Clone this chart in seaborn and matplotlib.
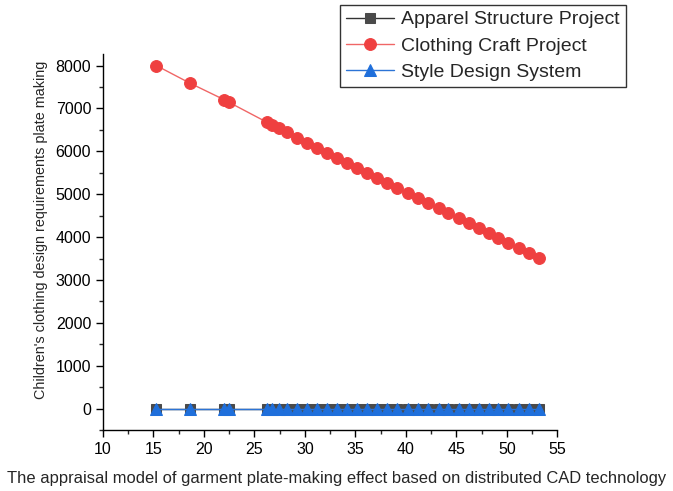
import matplotlib
matplotlib.use("Agg")
import matplotlib.pyplot as plt
from matplotlib.ticker import MultipleLocator
import seaborn as sns
import pandas as pd

# Appraisal model scores along the x axis
x_vals = [15.29, 18.58, 22.0, 22.5, 26.28, 26.72, 27.44, 28.26, 29.25, 30.24,
          31.23, 32.21, 33.20, 34.19, 35.18, 36.17, 37.16, 38.14, 39.13, 40.22,
          41.21, 42.19, 43.28, 44.17, 45.26, 46.25, 47.23, 48.22, 49.11, 50.10,
          51.19, 52.24, 53.23]

apparel_structure = [0] * len(x_vals)
clothing_craft = [8000, 7595, 7205, 7142, 6674, 6620, 6543, 6440, 6323, 6206,
                  6089, 5972, 5855, 5738, 5621, 5504, 5373, 5256, 5139, 5022,
                  4905, 4788, 4671, 4568, 4437, 4320, 4203, 4086, 3969, 3867,
                  3750, 3633, 3502]
style_design = [0] * len(x_vals)

series_names = ["Apparel Structure Project", "Clothing Craft Project", "Style Design System"]

sns.set_style("ticks")
plt.rcParams["font.family"] = ["Liberation Sans", "DejaVu Sans"]

fig = plt.figure(figsize=(6.73, 4.91), dpi=100)
ax = fig.add_axes([0.153, 0.124, 0.675, 0.766])

df = pd.DataFrame({"x": x_vals, "a": apparel_structure, "c": clothing_craft, "s": style_design})

styles = [
    ("a", series_names[0], "#333333", "#4a4a4a", "s", 6.5),
    ("c", series_names[1], "#F06666", "#EF4040", "o", 8.5),
    ("s", series_names[2], "#2C74D6", "#1F6FDB", "^", 8.0),
]
for col, name, lcol, mcol, mk, ms in styles:
    sns.lineplot(data=df, x="x", y=col, ax=ax, color=lcol, linewidth=1.0,
                 marker=mk, markersize=ms, markerfacecolor=mcol,
                 markeredgecolor=mcol, label=name, estimator=None, sort=False)

ax.set_xlim(10, 55)
ax.set_ylim(-500, 8270)
ax.xaxis.set_major_locator(MultipleLocator(5))
ax.xaxis.set_minor_locator(MultipleLocator(2.5))
ax.yaxis.set_major_locator(MultipleLocator(1000))
ax.yaxis.set_minor_locator(MultipleLocator(500))
ax.tick_params(which="major", direction="out", length=5, width=1, labelsize=11.5, colors="black")
ax.tick_params(which="minor", direction="out", length=3, width=1)
for side in ["top", "right"]:
    ax.spines[side].set_visible(False)
for side in ["left", "bottom"]:
    ax.spines[side].set_color("black")
    ax.spines[side].set_linewidth(1)

ax.set_xlabel("")
ax.set_ylabel("Children's clothing design requirements plate making", fontsize=10.4)
ax.yaxis.set_label_coords(-0.12, 0.532)
fig.text(336.5 / 673, 1 - 478 / 491,
         "The appraisal model of garment plate-making effect based on distributed CAD technology",
         fontsize=11.85, ha="center", va="center")

handles, labels = ax.get_legend_handles_labels()
ax.legend_.remove()
leg = fig.legend(handles, labels, loc="upper left", bbox_to_anchor=(340 / 673, 1 - 5 / 491),
                 fontsize=14, frameon=True, fancybox=False, handlelength=2.5,
                 borderpad=0.3, labelspacing=0.45, handletextpad=0.35, borderaxespad=0)
leg.get_frame().set_edgecolor("black")
leg.get_frame().set_linewidth(1)

fig.savefig("out.png", dpi=100)
